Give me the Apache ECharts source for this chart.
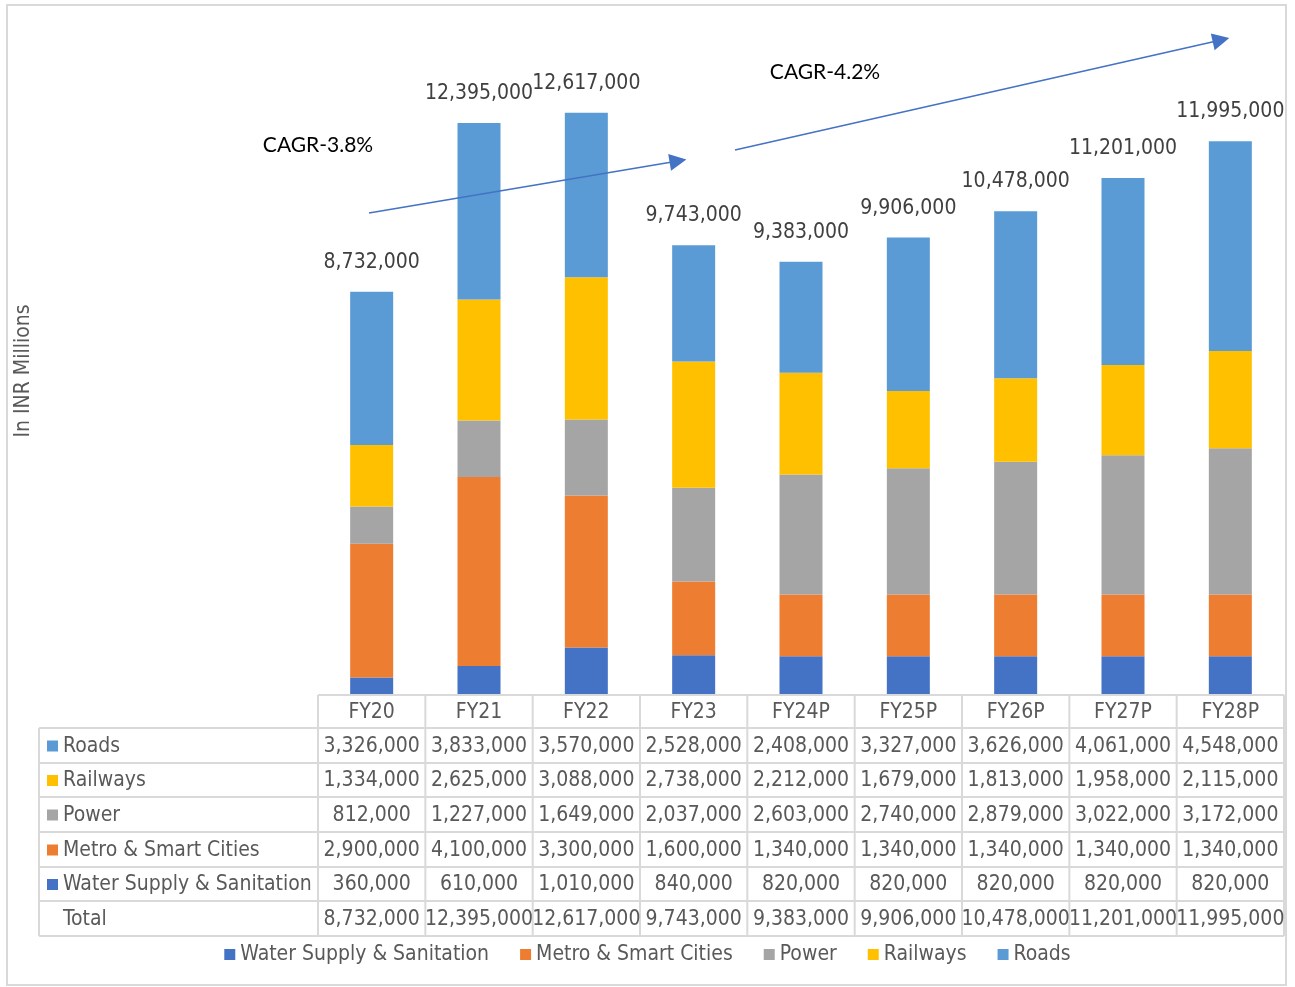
<!DOCTYPE html>
<html><head><meta charset="utf-8">
<script src="https://cdn.jsdelivr.net/npm/echarts@6/dist/echarts.min.js"></script>
<style>html,body{margin:0;padding:0;background:#fff}#c{width:1295px;height:987px}</style>
</head><body><div id="c"></div>
<script>
const categories = ['FY20','FY21','FY22','FY23','FY24P','FY25P','FY26P','FY27P','FY28P'];
const roads    = [3326000,3833000,3570000,2528000,2408000,3327000,3626000,4061000,4548000];
const railways = [1334000,2625000,3088000,2738000,2212000,1679000,1813000,1958000,2115000];
const power    = [812000,1227000,1649000,2037000,2603000,2740000,2879000,3022000,3172000];
const metro    = [2900000,4100000,3300000,1600000,1340000,1340000,1340000,1340000,1340000];
const water    = [360000,610000,1010000,840000,820000,820000,820000,820000,820000];
const totals   = [8732000,12395000,12617000,9743000,9383000,9906000,10478000,11201000,11995000];
const cagrLabels = ['CAGR-3.8%','CAGR-4.2%'];

const FONT = '"DejaVu Sans Condensed", "DejaVu Sans", sans-serif';
const colors = {water:'#4472C4', metro:'#ED7D31', power:'#A5A5A5', railways:'#FFC000', roads:'#5B9BD5'};
const fmt = v => v.toLocaleString('en-US');

const chart = echarts.init(document.getElementById('c'));
const stackSeries = [
  {name:'Water Supply & Sanitation', data:water, color:colors.water},
  {name:'Metro & Smart Cities', data:metro, color:colors.metro},
  {name:'Power', data:power, color:colors.power},
  {name:'Railways', data:railways, color:colors.railways},
  {name:'Roads', data:roads, color:colors.roads}
].map((s,i) => ({
  name:s.name, type:'bar', stack:'t', data:s.data, barWidth:43,
  itemStyle:{color:s.color},
  label: i===4 ? {show:true, position:'top', distance:19, color:'#404040', fontSize:21, fontFamily:FONT,
                 formatter: p => fmt(totals[p.dataIndex])} : {show:false}
}));
stackSeries[4].markLine = {
  silent:true, symbol:['none','triangle'], symbolSize:[17,17],
  lineStyle:{color:'#4472C4', width:1.5, type:'solid'}, label:{show:false},
  data:[
    [{x:369,y:213},{x:678,y:161}],
    [{x:735,y:150},{x:1221,y:40}]
  ]
};

chart.setOption({
  animation:false,
  color:[colors.water,colors.metro,colors.power,colors.railways,colors.roads],
  grid:{left:318, right:11, top:49, bottom:293},
  xAxis:{type:'category', data:categories, axisLine:{show:false}, axisTick:{show:false}, axisLabel:{show:false}},
  yAxis:{type:'value', min:0, max:14000000, show:false, splitLine:{show:false}},
  legend:{bottom:17, left:'center', itemWidth:11, itemHeight:11, itemGap:31, icon:'rect',
    textStyle:{color:'#595959', fontSize:21, fontFamily:FONT},
    data:['Water Supply & Sanitation','Metro & Smart Cities','Power','Railways','Roads']},
  series:stackSeries
});

// Build data table & annotations
const centers = categories.map((c,i)=>chart.convertToPixel({xAxisIndex:0}, i));
const band = centers[1]-centers[0];
const xs = [centers[0]-band/2].concat(centers.map(c=>c+band/2));
const rowsY = [695, 728, 763, 797, 832, 867, 901, 936];
const tableRows = [
  {name:'Roads', data:roads, color:colors.roads},
  {name:'Railways', data:railways, color:colors.railways},
  {name:'Power', data:power, color:colors.power},
  {name:'Metro & Smart Cities', data:metro, color:colors.metro},
  {name:'Water Supply & Sanitation', data:water, color:colors.water},
  {name:'Total', data:totals, color:null}
];
const LC = '#d9d9d9';
const TF = '21px '+FONT;
const g = [];
g.push({type:'rect', shape:{x:7,y:5,width:1279,height:980}, style:{fill:null, stroke:LC, lineWidth:2}, silent:true});
rowsY.forEach((y,k)=>{
  g.push({type:'line', shape:{x1: k===0? xs[0] : 39, y1:y, x2:xs[xs.length-1], y2:y}, style:{stroke:LC, lineWidth:2}, silent:true});
});
g.push({type:'line', shape:{x1:39,y1:rowsY[1],x2:39,y2:rowsY[7]}, style:{stroke:LC,lineWidth:2}, silent:true});
xs.forEach(x=>g.push({type:'line', shape:{x1:x,y1:rowsY[0],x2:x,y2:rowsY[7]}, style:{stroke:LC,lineWidth:2}, silent:true}));
categories.forEach((c,i)=>g.push({type:'text', x:centers[i], y:(rowsY[0]+rowsY[1])/2+1, silent:true,
  style:{text:c, fill:'#595959', font:TF, textAlign:'center', textVerticalAlign:'middle'}}));
tableRows.forEach((r,k)=>{
  const yc = (rowsY[k+1]+rowsY[k+2])/2 + 1;
  if (r.color) g.push({type:'rect', shape:{x:47,y:yc-6,width:11,height:11}, style:{fill:r.color}, silent:true});
  g.push({type:'text', x:63, y:yc, silent:true, style:{text:r.name, fill:'#595959', font:TF, textAlign:'left', textVerticalAlign:'middle'}});
  r.data.forEach((v,i)=>g.push({type:'text', x:centers[i], y:yc, silent:true,
    style:{text:fmt(v), fill:'#595959', font:TF, textAlign:'center', textVerticalAlign:'middle'}}));
});
g.push({type:'text', x:24, y:371, rotation:Math.PI/2, silent:true,
  style:{text:'In INR Millions', fill:'#595959', font:'21px '+FONT, textAlign:'center', textVerticalAlign:'middle'}});
g.push({type:'text', x:318, y:145, silent:true, style:{text:cagrLabels[0], fill:'#000', font:'21px Lato, "Open Sans", sans-serif', textAlign:'center', textVerticalAlign:'middle'}});
g.push({type:'text', x:825, y:72, silent:true, style:{text:cagrLabels[1], fill:'#000', font:'21px Lato, "Open Sans", sans-serif', textAlign:'center', textVerticalAlign:'middle'}});
chart.setOption({graphic:g});
</script></body></html>
